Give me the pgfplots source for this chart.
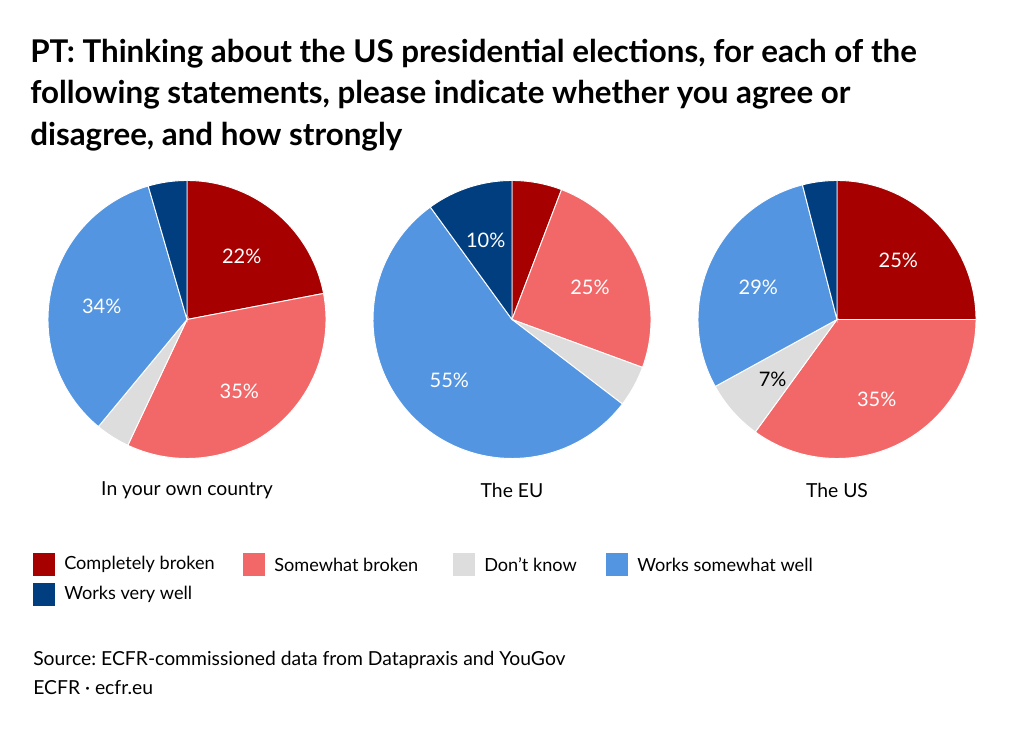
\documentclass[border=0pt]{standalone}
\usepackage{pgfplots}
\pgfplotsset{compat=1.18}
\usepackage{fontspec}
\setmainfont{Lato}
\frenchspacing
\definecolor{cb}{RGB}{166,0,0}
\definecolor{sb}{RGB}{242,104,104}
\definecolor{dk}{RGB}{221,221,221}
\definecolor{ws}{RGB}{83,149,224}
\definecolor{wv}{RGB}{0,62,128}
% one sector: centre x, centre y, start %, end %, colour
\newcommand{\sector}[5]{%
  \pgfmathsetmacro\sa{3.6*#3}\pgfmathsetmacro\sb{3.6*#4}%
  \edef\tmp{\noexpand\addplot[fill=#5, draw=white, line width=0.7pt, domain=\sa:\sb, samples=80]
    ({#1+139*sin(x)},{#2+139*cos(x)}) -- (axis cs:#1,#2) -- cycle;}\tmp}
% a pie: centre x, centre y, five shares (%)
\newcommand{\pie}[7]{%
  \pgfmathsetmacro\ca{#3}\pgfmathsetmacro\cbb{#3+#4}\pgfmathsetmacro\cc{#3+#4+#5}\pgfmathsetmacro\cd{#3+#4+#5+#6}%
  \sector{#1}{#2}{0}{\ca}{cb}%
  \sector{#1}{#2}{\ca}{\cbb}{sb}%
  \sector{#1}{#2}{\cbb}{\cc}{dk}%
  \sector{#1}{#2}{\cc}{\cd}{ws}%
  \sector{#1}{#2}{\cd}{100}{wv}}
\begin{document}
\begin{tikzpicture}
\useasboundingbox (0,0) rectangle (768pt,548.25pt);
\begin{axis}[at={(0,0)}, anchor=south west, scale only axis, width=768pt, height=548.25pt,
  xmin=0, xmax=1024, ymin=0, ymax=731, hide axis, clip=false]
% In your own country
\pie{187}{411.5}{22}{35}{4}{34.5}{4.5}
% The EU
\pie{512}{411.5}{5.8}{24.8}{4.8}{54.6}{10}
% The US
\pie{837}{411.5}{25}{35}{7}{29}{4}

\begin{scope}[every node/.style={font=\fontsize{15}{17}\selectfont, text=white}]
\node at (axis cs:241.7,474.3) {22\%};
\node at (axis cs:239.3,339.3) {35\%};
\node at (axis cs:101.7,425) {34\%};
\node at (axis cs:485.7,491) {10\%};
\node at (axis cs:590,443.7) {25\%};
\node at (axis cs:449.3,350.3) {55\%};
\node at (axis cs:898.3,470.3) {25\%};
\node at (axis cs:876.7,331.7) {35\%};
\node[text=black] at (axis cs:772.7,351.7) {7\%};
\node at (axis cs:758.3,443.7) {29\%};
\end{scope}

\begin{scope}[every node/.style={font=\fontsize{14.5}{16}\selectfont}]
\node at (axis cs:187,241) {In your own country};
\node at (axis cs:512,241) {The EU};
\node at (axis cs:837,241) {The US};
\end{scope}

% title
\begin{scope}[every node/.style={anchor=base west, inner sep=0pt, font=\fontsize{23.5}{28}\bfseries\selectfont}]
\node at (axis cs:30,668) {PT: Thinking about the US presidential elections, for each of the};
\node at (axis cs:30,627) {following statements, please indicate whether you agree or};
\node at (axis cs:30,585) {disagree, and how strongly};
\end{scope}

% legend
\begin{scope}[every node/.style={anchor=west, inner sep=0pt, font=\fontsize{13.6}{15}\selectfont}]
\fill[cb] (axis cs:33,155) rectangle (axis cs:55,178);
\node at (axis cs:64,166.5) {Completely broken};
\fill[sb] (axis cs:243,155) rectangle (axis cs:265,178);
\node at (axis cs:274,166.5) {Somewhat broken};
\fill[dk] (axis cs:453,155) rectangle (axis cs:475,178);
\node at (axis cs:484,166.5) {Don't know};
\fill[ws] (axis cs:606,155) rectangle (axis cs:628,178);
\node at (axis cs:637,166.5) {Works somewhat well};
\fill[wv] (axis cs:33,125) rectangle (axis cs:55,148);
\node at (axis cs:64,136.5) {Works very well};
\end{scope}
\begin{scope}[every node/.style={anchor=west, inner sep=0pt, font=\fontsize{14.5}{16}\selectfont}]
\node at (axis cs:33,71) {Source: ECFR-commissioned data from Datapraxis and YouGov};
\node at (axis cs:33,43) {ECFR · ecfr.eu};
\end{scope}
\end{axis}
\end{tikzpicture}
\end{document}
